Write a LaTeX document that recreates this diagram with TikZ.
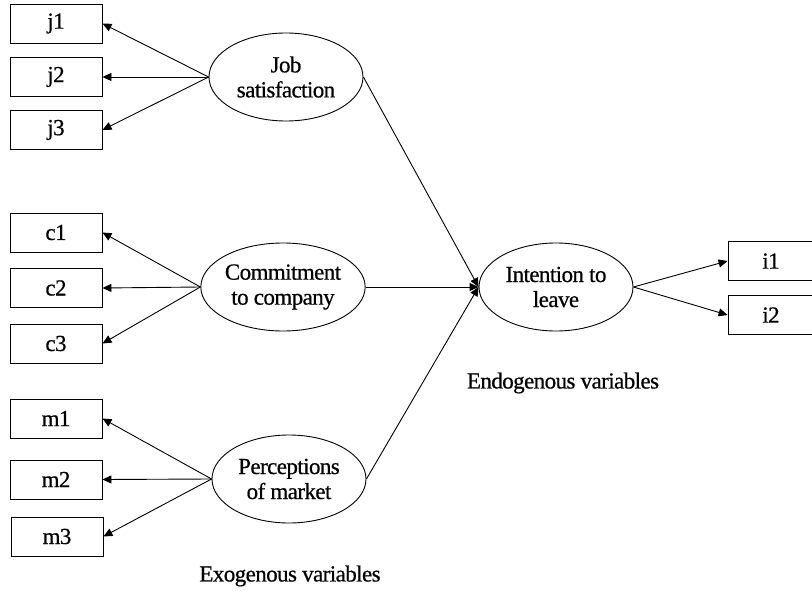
\documentclass[tikz,border=0pt]{standalone}
\usepackage{fontspec}
\setmainfont[LetterSpace=-2.5,FakeBold=0.6]{Liberation Serif}
\usetikzlibrary{shapes.geometric,arrows.meta}
\begin{document}
\begin{tikzpicture}[x=1pt,y=-1pt,
  every node/.style={font=\fontsize{23}{25}\selectfont},
  obsbox/.style={draw,line width=0.9pt,rectangle,minimum width=92pt,minimum height=39pt,inner sep=0pt},
  latent/.style={draw,line width=0.9pt,ellipse,minimum width=154pt,minimum height=88pt,inner sep=0pt,align=center},
  link/.style={line width=0.9pt,-{Triangle[length=9pt,width=8pt]}},
  plain/.style={font=\fontsize{23}{25}\selectfont}]
\useasboundingbox (0,0) rectangle (812,591);
% observed indicators
\node[obsbox] (j1) at (56,23.5) {j1};
\node[obsbox] (j2) at (56,77) {j2};
\node[obsbox] (j3) at (56,130) {j3};
\node[obsbox] (c1) at (56,232.5) {c1};
\node[obsbox] (c2) at (56,288) {c2};
\node[obsbox] (c3) at (56,343.5) {c3};
\node[obsbox] (m1) at (56,418.5) {m1};
\node[obsbox] (m2) at (56,479.5) {m2};
\node[obsbox] (m3) at (57,536.5) {m3};
\node[obsbox,minimum width=90pt] (i1) at (773,261) {\hspace*{-4pt}i1};
\node[obsbox,minimum width=90pt] (i2) at (773,315) {\hspace*{-4pt}i2};
% latent variables
\node[latent] (js) at (286,77) {Job\\satisfaction};
\node[latent] (cc) at (283,287) {Commitment\\to company};
\node[latent] (pm) at (289,479) {Perceptions\\of market};
\node[latent] (il) at (556,287) {Intention to\\leave};
% labels
\node[plain] (exo) at (290,576) {Exogenous variables};
\node[plain] (endo) at (563,383) {Endogenous variables};
% connectors
\draw[link] (js.west) -- (j1.east);
\draw[link] (js.west) -- (j2.east);
\draw[link] (js.west) -- (j3.east);
\draw[link] (cc.west) -- (c1.east);
\draw[link] (cc.west) -- (c2.east);
\draw[link] (cc.west) -- (c3.east);
\draw[link] (pm.west) -- (m1.east);
\draw[link] (pm.west) -- (m2.east);
\draw[link] (pm.west) -- (m3.east);
\draw[link] (js.east) -- (il.west);
\draw[link] (cc.east) -- (il.west);
\draw[link] (pm.east) -- (il.west);
\draw[link] (il.east) -- (i1.west);
\draw[link] (il.east) -- (i2.west);
\end{tikzpicture}
\end{document}
